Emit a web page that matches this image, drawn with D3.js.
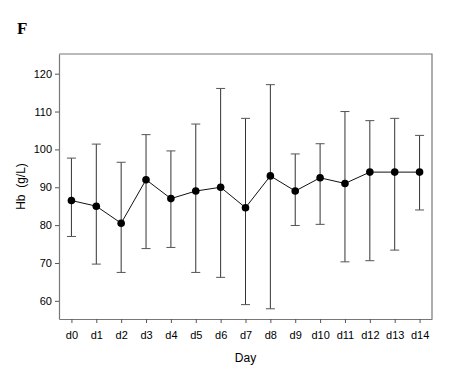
<html>
<head>
    <script src="https://d3js.org/d3.v7.min.js"></script>
    <style>
        body { margin: 0; background: #fff; }
        text { font-family: Arial, "Liberation Sans", sans-serif; }
    </style>
</head>
<body>
    <div id="chart">
        <svg width="452" height="366"></svg>
    </div>
    <script>
        // values
        var days = ["d0", "d1", "d2", "d3", "d4", "d5", "d6", "d7", "d8", "d9", "d10", "d11", "d12", "d13", "d14"]
        var hbMean = [86.5, 85.0, 80.5, 92.0, 87.0, 89.0, 90.0, 84.6, 93.0, 89.0, 92.5, 91.0, 94.0, 94.0, 94.0]
        var hbUpper = [97.7, 101.4, 96.6, 103.9, 99.6, 106.7, 116.1, 108.2, 117.1, 98.8, 101.5, 110.0, 107.6, 108.2, 103.7]
        var hbLower = [77.0, 69.7, 67.5, 73.8, 74.1, 67.5, 66.2, 59.0, 57.9, 79.9, 80.2, 70.3, 70.6, 73.4, 84.0]
        var yTicks = [60, 70, 80, 90, 100, 110, 120]

        var svg = d3.select("#chart svg")
        // plot box (avoid "top", it clashes with window.top)
        var boxL = 59, boxR = 432, boxT = 54, boxB = 319

        var xScale = d3.scaleLinear()
            .domain([-0.5, days.length - 0.5])
            .range([boxL, boxR])

        var yScale = d3.scaleLinear()
            .domain([55.2, 125.2])
            .range([boxB, boxT])

        var data = days.map(function(d, i) {
            return { day: d, i: i, mean: hbMean[i], lo: hbLower[i], hi: hbUpper[i] }
        })

        // frame: top and right lines
        svg.append("path")
            .attr("d", "M" + boxL + "," + boxT + "H" + boxR + "V" + boxB)
            .attr("fill", "none")
            .attr("stroke", "#777")
            .attr("stroke-width", 1.2)

        var xAxis = d3.axisBottom(xScale)
            .tickValues(d3.range(days.length))
            .tickFormat(function(i) { return days[i] })
            .tickSizeOuter(0)
            .tickSizeInner(4)
            .tickPadding(8)
        svg.append("g")
            .attr("transform", "translate(0," + boxB + ")")
            .call(xAxis)

        var yAxis = d3.axisLeft(yScale)
            .tickValues(yTicks)
            .tickSizeOuter(0)
            .tickSizeInner(4)
            .tickPadding(3)
        svg.append("g")
            .attr("transform", "translate(" + boxL + ",0)")
            .call(yAxis)

        svg.selectAll(".domain").attr("stroke", "#777").attr("stroke-width", 1.2)
        svg.selectAll(".tick line").attr("stroke", "#555")
        svg.selectAll(".tick text")
            .style("font-size", "11px")
            .style("font-family", "Arial, 'Liberation Sans', sans-serif")
            .attr("fill", "#000")

        // error bars
        var bars = svg.append("g").selectAll("g")
            .data(data)
            .enter()
            .append("g")
        bars.append("line")
            .attr("x1", function(d) { return xScale(d.i) })
            .attr("x2", function(d) { return xScale(d.i) })
            .attr("y1", function(d) { return yScale(d.lo) })
            .attr("y2", function(d) { return yScale(d.hi) })
            .attr("stroke", "#333")
            .attr("stroke-width", 1)
        bars.append("line")
            .attr("x1", function(d) { return xScale(d.i) - 4.5 })
            .attr("x2", function(d) { return xScale(d.i) + 4.5 })
            .attr("y1", function(d) { return yScale(d.hi) })
            .attr("y2", function(d) { return yScale(d.hi) })
            .attr("stroke", "#555")
            .attr("stroke-width", 1)
        bars.append("line")
            .attr("x1", function(d) { return xScale(d.i) - 4.5 })
            .attr("x2", function(d) { return xScale(d.i) + 4.5 })
            .attr("y1", function(d) { return yScale(d.lo) })
            .attr("y2", function(d) { return yScale(d.lo) })
            .attr("stroke", "#555")
            .attr("stroke-width", 1)

        // mean line
        var line = d3.line()
            .x(function(d) { return xScale(d.i) })
            .y(function(d) { return yScale(d.mean) })
        svg.append("path")
            .datum(data)
            .attr("d", line)
            .attr("fill", "none")
            .attr("stroke", "#111")
            .attr("stroke-width", 1)

        svg.append("g").selectAll("circle")
            .data(data)
            .enter()
            .append("circle")
            .attr("cx", function(d) { return xScale(d.i) })
            .attr("cy", function(d) { return yScale(d.mean) })
            .attr("r", 3.8)
            .attr("fill", "#000")

        // labels
        svg.append("text")
            .attr("x", 17)
            .attr("y", 34)
            .style("font-family", "'Liberation Serif', 'Times New Roman', serif")
            .style("font-weight", "bold")
            .style("font-size", "17px")
            .text("F")

        svg.append("text")
            .attr("transform", "translate(25," + ((boxT + boxB) / 2) + ") rotate(-90)")
            .attr("text-anchor", "middle")
            .style("font-size", "12px")
            .style("white-space", "pre")
            .text("Hb  (g/L)")

        svg.append("text")
            .attr("x", (boxL + boxR) / 2)
            .attr("y", 362)
            .attr("text-anchor", "middle")
            .style("font-size", "12px")
            .text("Day")
    </script>
</body>
</html>
